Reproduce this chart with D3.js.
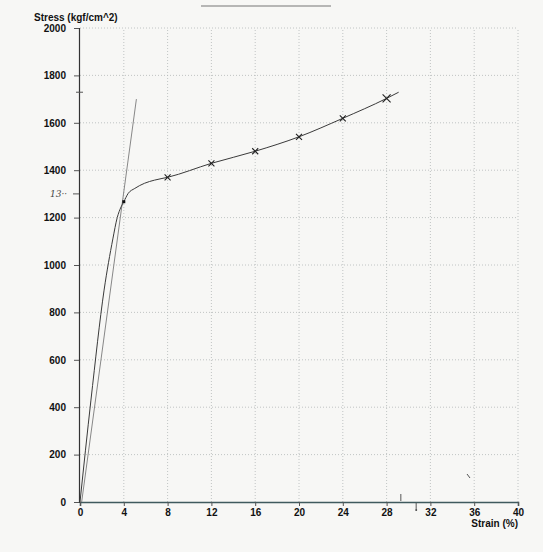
<!DOCTYPE html>
<html>
<head>
<meta charset="utf-8">
<script src="https://cdn.jsdelivr.net/npm/d3@7"></script>
<style>
  html, body { margin: 0; padding: 0; background: #f7f7f5; }
  svg { display: block; }
  .tick text { font-family: "Liberation Sans", Arial, sans-serif; font-weight: bold; font-size: 10px; fill: #111; }
</style>
</head>
<body>
<script>
// Stress–strain record of a tensile test
const curveStrain = [0, 1.0, 2.2, 3.0, 3.4, 3.75, 4.0, 4.4, 5.0, 5.9, 6.8, 8, 12, 16, 20, 24, 28, 29.1];
const curveStress = [0, 430, 894, 1110, 1200, 1245, 1267, 1302, 1323, 1345, 1358, 1370, 1429, 1480, 1541, 1619, 1703, 1729];

// Readings marked with crosses
const markStrain = [8, 12, 16, 20, 24, 28];
const markStress = [1370, 1429, 1480, 1541, 1619, 1703];

// Yield point
const yieldStrain = [4];
const yieldStress = [1267];

// Elastic (tangent) line
const tangentStrain = [0.15, 5.15];
const tangentStress = [0, 1700];

// Axis ticks
const xTicks = [0, 4, 8, 12, 16, 20, 24, 28, 32, 36, 40];
const yTicks = [0, 200, 400, 600, 800, 1000, 1200, 1400, 1600, 1800, 2000];

const W = 543, H = 552;
const svg = d3.select("body").append("svg").attr("width", W).attr("height", H);

const x = d3.scaleLinear().domain([0, 40]).range([80, 518]);
const y = d3.scaleLinear().domain([0, 2000]).range([502, 28]);

// dotted grid
const grid = svg.append("g").attr("stroke", "#b3b8b8").attr("stroke-width", 0.8)
  .attr("stroke-dasharray", "1,2");
grid.selectAll("line.h").data(yTicks.filter(d => d > 0)).join("line")
  .attr("x1", x(0)).attr("x2", x(40)).attr("y1", d => y(d)).attr("y2", d => y(d));
grid.selectAll("line.v").data(xTicks.filter(d => d > 0)).join("line")
  .attr("x1", d => x(d)).attr("x2", d => x(d)).attr("y1", y(0)).attr("y2", y(2000));

// axes
const yAxis = svg.append("g").attr("transform", `translate(${x(0) - 1},0)`)
  .call(d3.axisLeft(y).tickValues(yTicks).tickSize(5).tickPadding(8).tickFormat(d3.format("d")));
yAxis.select(".domain").attr("stroke", "#333").attr("stroke-width", 1.2);
yAxis.selectAll(".tick line").attr("stroke", "#555");

const xAxis = svg.append("g").attr("transform", `translate(0,${y(0)})`)
  .call(d3.axisBottom(x).tickValues(xTicks).tickSize(4).tickPadding(3).tickFormat(d3.format("d")));
xAxis.select(".domain").attr("stroke", "#3f5a5e").attr("stroke-width", 1.6);
xAxis.selectAll(".tick line").attr("stroke", "#555");

// axis titles
svg.append("text").attr("x", 34).attr("y", 21)
  .attr("font-family", "Liberation Sans, Arial, sans-serif").attr("font-weight", "bold")
  .attr("font-size", 10).attr("fill", "#111").text("Stress (kgf/cm^2)");
svg.append("text").attr("x", 518).attr("y", 527).attr("text-anchor", "end")
  .attr("font-family", "Liberation Sans, Arial, sans-serif").attr("font-weight", "bold")
  .attr("font-size", 10).attr("fill", "#111").text("Strain (%)");

// tangent line
svg.append("path")
  .datum(d3.zip(tangentStrain, tangentStress))
  .attr("fill", "none").attr("stroke", "#7a7a7a").attr("stroke-width", 0.9)
  .attr("d", d3.line().x(d => x(d[0])).y(d => y(d[1])));

// measured curve
svg.append("path")
  .datum(d3.zip(curveStrain, curveStress))
  .attr("fill", "none").attr("stroke", "#3a3a3a").attr("stroke-width", 1)
  .attr("d", d3.line().curve(d3.curveMonotoneX).x(d => x(d[0])).y(d => y(d[1])));

// cross markers
svg.append("g").selectAll("path").data(d3.zip(markStrain, markStress)).join("path")
  .attr("transform", d => `translate(${x(d[0])},${y(d[1])})`)
  .attr("d", (d, i) => { const s = i === markStrain.length - 1 ? 4 : 3; return `M${-s},${-s}L${s},${s}M${-s},${s}L${s},${-s}`; })
  .attr("stroke", "#222").attr("stroke-width", 1.1).attr("fill", "none");

// yield point
svg.append("g").selectAll("rect").data(d3.zip(yieldStrain, yieldStress)).join("rect")
  .attr("x", d => x(d[0]) - 1.5).attr("y", d => y(d[1]) - 1.5)
  .attr("width", 3).attr("height", 3).attr("fill", "#111");

// hand-written notes on the sheet
svg.append("line").attr("x1", x(0) - 7).attr("x2", x(0) - 1).attr("y1", y(1300)).attr("y2", y(1300))
  .attr("stroke", "#555").attr("stroke-width", 1);
svg.append("text").attr("x", 50).attr("y", y(1300) + 3)
  .attr("font-family", "DejaVu Serif, serif").attr("font-style", "italic")
  .attr("font-size", 9).attr("fill", "#444").text("13··");
svg.append("line").attr("x1", x(0) - 4).attr("x2", x(0) + 3).attr("y1", y(1729)).attr("y2", y(1729))
  .attr("stroke", "#555").attr("stroke-width", 1);
svg.append("line").attr("x1", x(29.3)).attr("x2", x(29.3)).attr("y1", y(0) - 8).attr("y2", y(0) - 1)
  .attr("stroke", "#555").attr("stroke-width", 1);
svg.append("line").attr("x1", x(30.7)).attr("x2", x(30.7)).attr("y1", y(0) + 1).attr("y2", y(0) + 7)
  .attr("stroke", "#555").attr("stroke-width", 1);
svg.append("circle").attr("cx", x(30.7)).attr("cy", y(0) + 8).attr("r", 1).attr("fill", "#444");
svg.append("line").attr("x1", 467).attr("x2", 470).attr("y1", 474).attr("y2", 478)
  .attr("stroke", "#555").attr("stroke-width", 1);
svg.append("line").attr("x1", 201).attr("x2", 331).attr("y1", 6).attr("y2", 6)
  .attr("stroke", "#777").attr("stroke-width", 1.2);
</script>
</body>
</html>
